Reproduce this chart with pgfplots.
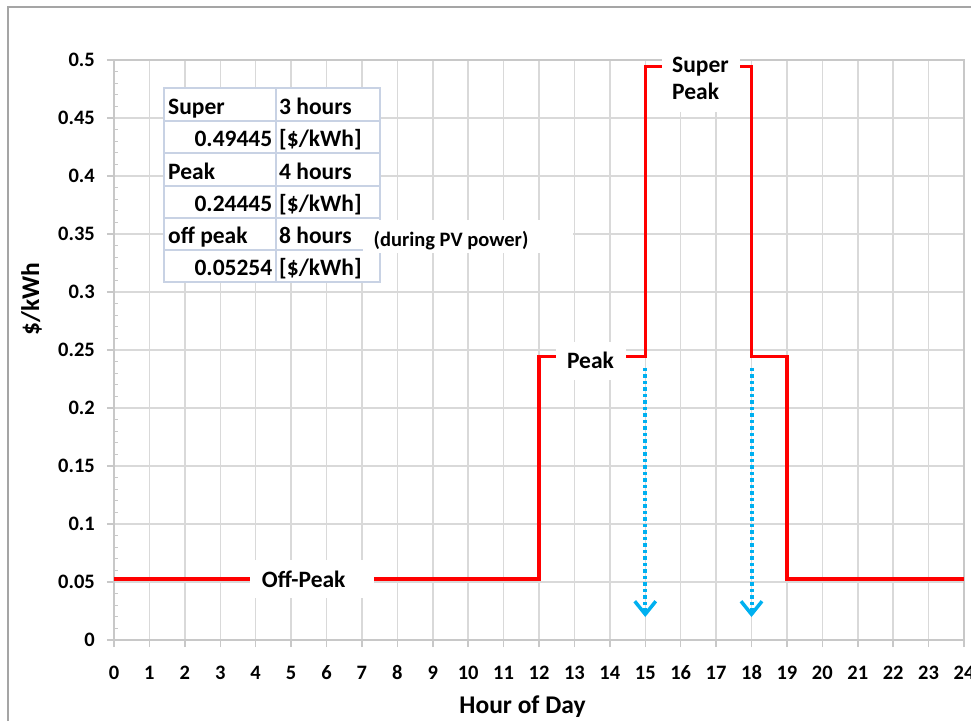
\documentclass[border=0pt]{standalone}
\usepackage{pgfplots}
\pgfplotsset{compat=1.18}
\usepackage{fontspec}
\setmainfont{Carlito}
\usetikzlibrary{arrows.meta}

\definecolor{gridgray}{RGB}{217,217,217}
\definecolor{axisgray}{RGB}{200,200,200}
\definecolor{framegray}{RGB}{165,165,165}
\definecolor{tou}{RGB}{255,0,0}
\definecolor{pvblue}{RGB}{0,176,240}
\definecolor{cellline}{RGB}{200,210,228}

% bold Carlito at a given size; the node is centred on the cap height
\newcommand\fs[1]{\fontsize{#1}{#1}\selectfont\bfseries}
\tikzset{
  lbl/.style 2 args={inner sep=0pt, font=\fs{#1}, text height=#2, text depth=0pt},
  numlbl/.style={lbl={20.5}{13.20pt}},
  cell/.style={lbl={23.5}{15.13pt}},
  tag/.style={lbl={23.5}{15.13pt}},
  title/.style={lbl={25.5}{16.42pt}},
}

\begin{document}
\begin{tikzpicture}[x=1pt,y=1pt]
\useasboundingbox (0,0) rectangle (971,721);
% chart frame
\draw[framegray, line width=2pt] (8,0) -- (8,714) -- (971,714);

\begin{axis}[
  at={(114pt,81pt)}, anchor=south west,
  scale only axis, width=850pt, height=580pt,
  xmin=0, xmax=24, ymin=0, ymax=0.5,
  xtick={0,...,24},
  ytick={0,0.05,0.1,0.15,0.2,0.25,0.3,0.35,0.4,0.45,0.5},
  minor y tick num=4,
  scaled y ticks=false,
  grid=major,
  major grid style={gridgray, line width=1.5pt},
  axis line style={axisgray, line width=1.5pt},
  tick align=outside,
  xtick pos=bottom, ytick pos=left,
  major tick length=7pt,
  minor tick length=4pt,
  major tick style={axisgray, line width=1.5pt},
  minor y tick style={axisgray, line width=1pt, xshift=4pt},
  /pgf/number format/assume math mode=true,
  yticklabel style={/pgf/number format/fixed, /pgf/number format/precision=2},
  xticklabel style={numlbl, anchor=north, yshift=-19pt},
  yticklabel style={numlbl, anchor=east, xshift=-12pt},
  clip=false,
]
% time-of-use tariff over the day
\addplot[tou, line width=3.5pt, line join=miter] coordinates {
  (0,0.05254) (12,0.05254) (12,0.24445) (15,0.24445) (15,0.49445)
  (18,0.49445) (18,0.24445) (19,0.24445) (19,0.05254) (24,0.05254)};
% super-peak boundaries
\addplot[pvblue, line width=4pt, dash pattern=on 3.5pt off 3pt,
  -{Straight Barb[length=13pt,width=21pt,line width=3.5pt]}]
  coordinates {(15,0.2345) (15,0.0198)};
\addplot[pvblue, line width=4pt, dash pattern=on 3.5pt off 3pt,
  -{Straight Barb[length=13pt,width=21pt,line width=3.5pt]}]
  coordinates {(18,0.2345) (18,0.0198)};
\end{axis}

% tariff table
\fill[white] (164,633) rectangle (380,439);
\begin{scope}[cellline, line width=2pt]
  \draw (164,633) rectangle (380,439);
  \draw (276,633) -- (276,439);
  \foreach \y in {600,568,535,503,471} \draw (164,\y) -- (380,\y);
\end{scope}
\fill[white] (363,468) rectangle (573,501);
\node[cell, anchor=west] at (168,614.5) {Super};
\node[cell, anchor=east] at (272.5,582) {0.49445};
\node[cell, anchor=west] at (168,549.5) {Peak};
\node[cell, anchor=east] at (272.5,517) {0.24445};
\node[cell, anchor=west] at (168,485) {off peak};
\node[cell, anchor=east] at (272.5,453) {0.05254};
\node[cell, anchor=west] at (279,614.5) {3 hours};
\node[cell, anchor=west] at (279,582) {[\$/kWh]};
\node[cell, anchor=west] at (279,549.5) {4 hours};
\node[cell, anchor=west] at (279,517) {[\$/kWh]};
\node[cell, anchor=west] at (279,485) {8 hours};
\node[cell, anchor=west] at (279,453) {[\$/kWh]};
\node[numlbl] at (451,481) {(during PV power)};

% period labels
\fill[white] (662,609) rectangle (740,669);
\node[tag, anchor=west] at (672,655.6) {Super};
\node[tag, anchor=west] at (672,628.6) {Peak};
\fill[white] (556,341) rectangle (626,379);
\node[tag] at (590.5,360.5) {Peak};
\fill[white] (250,123) rectangle (374,161);
\node[tag] at (303.7,141.5) {Off-Peak};

% axis titles
\node[title] at (522.5,15.3) {Hour of Day};
\node[title, rotate=90] at (31,422) {\$/kWh};
\end{tikzpicture}
\end{document}
